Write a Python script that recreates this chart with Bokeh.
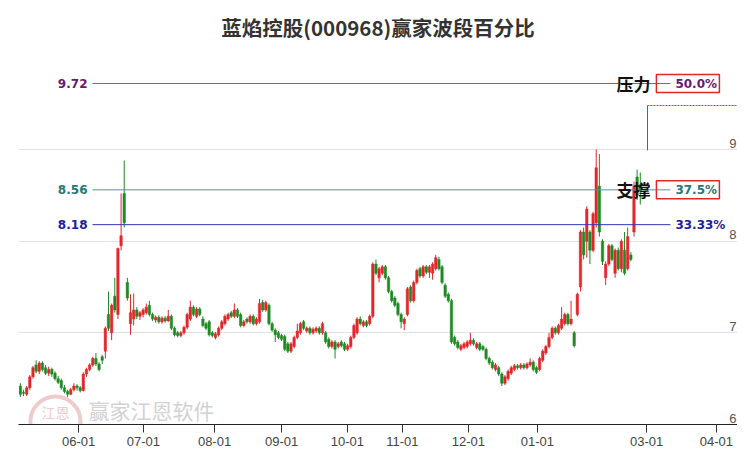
from bokeh.plotting import figure
from bokeh.models import Range1d, FixedTicker, ColumnDataSource
from bokeh.core.properties import value
from bokeh.embed import file_html
from bokeh.resources import INLINE

# ---------------- data ----------------
opens = [
    6.42, 6.35, 6.33, 6.40, 6.52, 6.65, 6.58, 6.67, 6.62, 6.56,
    6.60, 6.56, 6.50, 6.48, 6.40, 6.36, 6.33, 6.38, 6.42, 6.40,
    6.37, 6.55, 6.60, 6.65, 6.72, 6.66, 6.74, 6.80, 7.20, 7.00,
    7.40, 7.20, 7.95, 8.52, 7.55, 7.10, 7.15, 7.25, 7.18, 7.20,
    7.22, 7.30, 7.20, 7.14, 7.17, 7.12, 7.16, 7.13, 7.18, 7.05,
    7.00, 6.97, 7.00, 7.06, 7.15, 7.28, 7.18, 7.26, 7.15, 7.10,
    7.12, 7.00, 6.95, 6.98, 7.05, 7.10, 7.15, 7.22, 7.18, 7.25,
    7.20, 7.08, 7.15, 7.12, 7.18, 7.10, 7.12, 7.33, 7.25, 7.30,
    7.10, 7.03, 7.00, 6.97, 6.96, 6.88, 6.80, 6.85, 6.95, 7.00,
    7.12, 7.02, 7.05, 7.00, 7.02, 7.05, 7.00, 7.00, 6.93, 6.85,
    6.90, 6.85, 6.90, 6.88, 6.82, 6.85, 6.95, 7.00, 7.15, 7.08,
    7.12, 7.10, 7.18, 7.75, 7.60, 7.65, 7.72, 7.60, 7.45, 7.38,
    7.32, 7.20, 7.10, 7.20, 7.50, 7.35, 7.55, 7.70, 7.62, 7.72,
    7.66, 7.65, 7.70, 7.80, 7.72, 7.52, 7.42, 7.35, 6.95, 6.90,
    6.82, 6.84, 6.85, 6.88, 6.92, 6.84, 6.88, 6.85, 6.82, 6.72,
    6.68, 6.60, 6.62, 6.55, 6.45, 6.50, 6.56, 6.60, 6.64, 6.62,
    6.65, 6.62, 6.65, 6.68, 6.62, 6.60, 6.70, 6.78, 6.85, 6.95,
    7.05, 7.00, 7.05, 7.10, 7.20, 7.10, 7.00, 7.20, 7.50, 8.10,
    8.00, 8.10, 7.90, 8.20, 8.60, 8.00, 7.60, 7.75, 7.95, 7.65,
    7.90, 7.70, 7.90, 7.70, 7.85, 8.10, 8.70, 8.60,
]
highs = [
    6.45, 6.38, 6.42, 6.54, 6.64, 6.70, 6.69, 6.69, 6.65, 6.63,
    6.62, 6.58, 6.53, 6.50, 6.43, 6.38, 6.40, 6.45, 6.44, 6.42,
    6.57, 6.62, 6.67, 6.74, 6.78, 6.68, 6.76, 7.07, 7.45, 7.32,
    7.60, 7.93, 8.52, 8.88, 7.60, 7.42, 7.43, 7.28, 7.24, 7.27,
    7.32, 7.35, 7.22, 7.19, 7.19, 7.18, 7.18, 7.25, 7.20, 7.07,
    7.02, 7.02, 7.08, 7.22, 7.35, 7.30, 7.28, 7.28, 7.18, 7.12,
    7.14, 7.02, 7.01, 7.07, 7.14, 7.20, 7.22, 7.24, 7.32, 7.27,
    7.22, 7.14, 7.17, 7.20, 7.20, 7.17, 7.37, 7.36, 7.35, 7.32,
    7.12, 7.05, 7.02, 6.99, 6.98, 6.90, 6.90, 6.97, 7.10, 7.12,
    7.14, 7.07, 7.07, 7.06, 7.07, 7.07, 7.12, 7.02, 6.95, 6.92,
    6.92, 6.90, 6.92, 6.90, 6.88, 6.97, 7.10, 7.17, 7.18, 7.14,
    7.14, 7.20, 7.77, 7.80, 7.72, 7.74, 7.74, 7.62, 7.47, 7.40,
    7.34, 7.22, 7.17, 7.50, 7.52, 7.57, 7.70, 7.72, 7.74, 7.74,
    7.74, 7.77, 7.85, 7.83, 7.74, 7.54, 7.44, 7.37, 6.97, 6.92,
    6.88, 6.90, 6.92, 7.00, 6.94, 6.90, 6.90, 6.87, 6.84, 6.74,
    6.70, 6.67, 6.64, 6.57, 6.54, 6.60, 6.64, 6.66, 6.66, 6.67,
    6.67, 6.68, 6.72, 6.70, 6.64, 6.74, 6.82, 6.87, 7.00, 7.07,
    7.07, 7.10, 7.28, 7.22, 7.22, 7.35, 7.02, 7.44, 8.12, 8.15,
    8.38, 8.12, 8.32, 9.00, 8.95, 8.02, 7.78, 7.97, 7.97, 7.92,
    7.93, 8.02, 8.10, 8.15, 7.88, 8.65, 8.78, 8.75,
]
lows = [
    6.30, 6.31, 6.31, 6.38, 6.50, 6.56, 6.55, 6.58, 6.54, 6.53,
    6.52, 6.48, 6.44, 6.38, 6.34, 6.30, 6.32, 6.36, 6.37, 6.35,
    6.36, 6.52, 6.58, 6.63, 6.64, 6.58, 6.66, 6.72, 7.02, 6.92,
    7.22, 7.15, 7.90, 8.15, 7.35, 6.98, 7.08, 7.15, 7.14, 7.17,
    7.20, 7.18, 7.13, 7.11, 7.10, 7.10, 7.11, 7.12, 7.03, 6.96,
    6.95, 6.95, 6.98, 7.04, 7.13, 7.18, 7.16, 7.18, 7.06, 7.03,
    6.96, 6.95, 6.93, 6.96, 7.03, 7.08, 7.13, 7.16, 7.16, 7.16,
    7.06, 7.06, 7.10, 7.10, 7.08, 7.08, 7.10, 7.23, 7.23, 7.08,
    7.01, 6.90, 6.93, 6.91, 6.80, 6.78, 6.78, 6.83, 6.93, 6.98,
    7.03, 7.00, 6.98, 6.98, 7.00, 6.98, 6.98, 6.88, 6.83, 6.83,
    6.72, 6.83, 6.84, 6.80, 6.80, 6.83, 6.93, 6.98, 7.08, 7.06,
    7.06, 7.08, 7.16, 7.63, 7.55, 7.63, 7.58, 7.43, 7.33, 7.28,
    7.18, 7.05, 7.03, 7.18, 7.33, 7.33, 7.53, 7.60, 7.60, 7.64,
    7.60, 7.58, 7.68, 7.68, 7.53, 7.38, 7.33, 6.88, 6.86, 6.82,
    6.80, 6.82, 6.83, 6.86, 6.86, 6.82, 6.80, 6.80, 6.70, 6.65,
    6.60, 6.58, 6.53, 6.42, 6.43, 6.48, 6.54, 6.58, 6.60, 6.60,
    6.60, 6.60, 6.63, 6.58, 6.55, 6.58, 6.68, 6.76, 6.83, 6.93,
    6.98, 6.98, 7.03, 7.08, 7.08, 7.08, 6.84, 7.18, 7.45, 7.80,
    7.82, 7.75, 7.88, 8.15, 8.05, 7.74, 7.52, 7.73, 7.78, 7.60,
    7.68, 7.66, 7.63, 7.68, 7.78, 8.05, 8.45, 8.40,
]
closes = [
    6.33, 6.34, 6.40, 6.52, 6.62, 6.58, 6.67, 6.60, 6.56, 6.60,
    6.55, 6.50, 6.46, 6.40, 6.36, 6.33, 6.38, 6.42, 6.40, 6.37,
    6.55, 6.60, 6.65, 6.72, 6.66, 6.60, 6.70, 7.05, 7.05, 7.30,
    7.25, 7.92, 8.06, 8.20, 7.38, 7.22, 7.25, 7.18, 7.22, 7.25,
    7.28, 7.20, 7.15, 7.17, 7.12, 7.16, 7.13, 7.18, 7.05, 6.98,
    6.97, 7.00, 7.06, 7.20, 7.28, 7.20, 7.26, 7.20, 7.08, 7.05,
    6.98, 6.97, 6.99, 7.05, 7.12, 7.18, 7.20, 7.18, 7.25, 7.18,
    7.08, 7.12, 7.12, 7.18, 7.10, 7.15, 7.32, 7.25, 7.33, 7.10,
    7.03, 6.98, 6.95, 6.93, 6.82, 6.80, 6.88, 6.95, 7.02, 7.10,
    7.05, 7.05, 7.00, 7.04, 7.05, 7.00, 7.10, 6.90, 6.85, 6.90,
    6.82, 6.88, 6.86, 6.82, 6.86, 6.95, 7.08, 7.15, 7.10, 7.12,
    7.08, 7.18, 7.75, 7.65, 7.70, 7.72, 7.60, 7.45, 7.35, 7.30,
    7.20, 7.12, 7.15, 7.48, 7.35, 7.55, 7.68, 7.62, 7.72, 7.66,
    7.72, 7.75, 7.82, 7.70, 7.55, 7.40, 7.35, 6.90, 6.88, 6.84,
    6.86, 6.88, 6.90, 6.92, 6.88, 6.88, 6.82, 6.82, 6.72, 6.67,
    6.62, 6.65, 6.55, 6.45, 6.52, 6.58, 6.62, 6.64, 6.62, 6.65,
    6.62, 6.66, 6.68, 6.60, 6.57, 6.72, 6.80, 6.85, 6.95, 7.05,
    7.00, 7.08, 7.15, 7.20, 7.10, 7.15, 6.86, 7.42, 8.10, 7.85,
    8.35, 7.90, 8.30, 8.80, 8.10, 7.78, 7.75, 7.95, 7.80, 7.90,
    7.70, 8.00, 7.65, 8.05, 7.80, 8.60, 8.50, 8.55,
]

tick_pos = [18.5, 39.1, 61.7, 83.0, 103.9, 121.4, 142.4, 164.3, 199.0, 221.2]
tick_labels = ["06-01", "07-01", "08-01", "09-01", "10-01",
               "11-01", "12-01", "01-01", "03-01", "04-01"]
y_ticks = [6, 7, 8, 9]

levels = [9.72, 8.56, 8.18]
level_texts = ["9.72", "8.56", "8.18"]
pct_texts = ["50.0%", "37.5%", "33.33%"]
tags = ["压力", "支撑"]

step_x = [199.3, 199.3, 227.9]
step_y = [8.99, 9.48, 9.48]

title_text = "蓝焰控股(000968)赢家波段百分比"
watermark = "赢家江恩软件"

# ---------------- styling helpers ----------------
PX0, PXU = 19.9, 3.147          # screen x of index 0, px per trading day
def ix(px):
    return (px - PX0) / PXU

UP, DOWN = "#e2262a", "#1f8a24"
line_cols = ["#9c52a2", "#3e9e9e", "#3232b8"]
text_cols = ["#6a1a6e", "#23797a", "#1c1ca2"]

# ---------------- figure ----------------
p = figure(width=737, height=454, output_backend="svg", toolbar_location=None,
           x_range=Range1d(-0.6, 227.9), y_range=Range1d(6.0, 10.08),
           y_axis_location=None, min_border_left=18, min_border_right=0,
           min_border_top=50, min_border_bottom=30, title=title_text)
p.outline_line_color = None
p.background_fill_color = "white"
p.border_fill_color = "white"

p.title.text_font = "Noto Sans CJK SC"
p.title.text_font_style = "bold"
p.title.text_font_size = "20.5px"
p.title.text_color = "#333333"
p.title.align = "center"
p.title.standoff = 18

p.xgrid.visible = False
p.ygrid.ticker = FixedTicker(ticks=y_ticks[1:])
p.ygrid.grid_line_color = "#e2e2e2"

ax = p.xaxis[0]
ax.ticker = FixedTicker(ticks=tick_pos)
ax.major_label_overrides = {t: l for t, l in zip(tick_pos, tick_labels)}
ax.axis_line_color = "#222222"
ax.major_tick_line_color = "#333333"
ax.major_tick_out = 8
ax.major_tick_in = 0
ax.minor_tick_out = 0
ax.minor_tick_in = 0
ax.major_label_standoff = 4
ax.major_label_text_font = "Liberation Sans"
ax.major_label_text_font_size = "13px"
ax.major_label_text_color = "#444444"

# watermark (the part inside the plotting area)
p.scatter(x=[ix(55)], y=[6.033], marker="circle", size=50, fill_alpha=0,
          line_color="#efcccc", line_width=4)
p.text(x=[ix(55)], y=[6.14], text=["江恩"], text_color="#efcccc",
       text_font=value("Noto Sans CJK SC"), text_font_size="14px",
       text_align="center", text_baseline="middle")
p.text(x=[ix(88)], y=[6.155], text=[watermark], text_color="#d2d2d2",
       text_font=value("Noto Sans CJK SC"), text_font_size="21px",
       text_align="left", text_baseline="middle")

# candles
idx = list(range(len(closes)))
cols = [UP if c >= o else DOWN for o, c in zip(opens, closes)]
src = ColumnDataSource(dict(x=idx, o=opens, h=highs, l=lows, c=closes, col=cols))
p.segment(x0="x", y0="l", x1="x", y1="h", color="col", line_width=1, source=src)
p.vbar(x="x", top="o", bottom="c", width=0.78, fill_color="col", line_color="col",
       line_width=0.5, source=src)

# step indicator line
p.line(step_x[:2], step_y[:2], color="#2c8a2c", line_width=1)
p.line(step_x[1:], step_y[1:], color="#2c8a2c", line_width=1, line_dash="2 1")

# level lines
n = len(levels)
p.segment(x0=[ix(92)] * n, y0=levels, x1=[ix(670)] * n, y1=levels,
          color=line_cols, line_width=1)
p.text(x=[ix(87)] * n, y=levels, text=level_texts, text_color=text_cols,
       text_font=value("DejaVu Sans"), text_font_style="bold", text_font_size="12px",
       text_align="right", text_baseline="middle")
p.text(x=[ix(675)] * n, y=levels, text=pct_texts, text_color=text_cols,
       text_font=value("DejaVu Sans"), text_font_style="bold", text_font_size="12px",
       text_align="left", text_baseline="middle")
p.rect(x=[ix(687.5)] * 2, y=levels[:2], width=63, height=18,
       width_units="screen", height_units="screen", fill_alpha=0,
       line_color="#e0262a", line_width=1.5)
p.text(x=[ix(633)] * 2, y=levels[:2], text=tags, text_color="#111111",
       text_font=value("Noto Sans CJK SC"), text_font_style="bold",
       text_font_size="17px", text_align="center", text_baseline="middle")

# right-hand value labels
p.text(x=[ix(736)] * len(y_ticks), y=y_ticks, text=[str(t) for t in y_ticks],
       text_color="#555555", text_font=value("Liberation Sans"),
       text_font_size="13px", text_align="right", text_baseline="bottom",
       y_offset=-2)

open("out.html", "w").write(file_html(p, INLINE))
